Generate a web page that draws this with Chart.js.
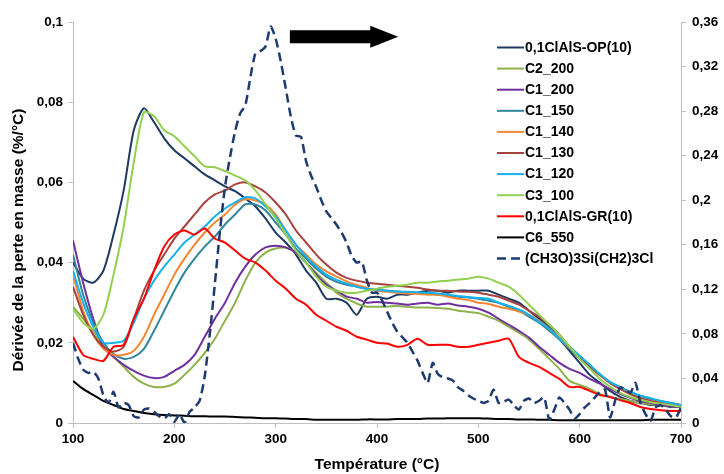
<!DOCTYPE html>
<html>
<head>
<meta charset="utf-8">
<script src="https://cdn.jsdelivr.net/npm/chart.js@4.4.1/dist/chart.umd.min.js"></script>
<style>
html,body{margin:0;padding:0;background:#fff}
#wrap{width:724px;height:474px}
</style>
</head>
<body>
<div id="wrap"><canvas id="dtgChart" width="724" height="474"></canvas></div>
<script>
"use strict"
//temperatures (°C), 10 degree step for the samples, 5 degree step for the silane
var temps = [100,110,120,130,140,150,160,170,180,190,
  200,210,220,230,240,250,260,270,280,290,
  300,310,320,330,340,350,360,370,380,390,
  400,410,420,430,440,450,460,470,480,490,
  500,510,520,530,540,550,560,570,580,590,
  600,610,620,630,640,650,660,670,680,690,700];
var tempsSilane = [100,105,110,115,120,125,130,135,140,145,
  150,155,160,165,170,175,180,185,190,195,
  200,205,210,215,220,225,230,235,240,245,
  250,255,260,265,270,275,280,285,290,295,
  300,305,310,315,320,325,330,335,340,345,
  350,355,360,365,370,375,380,385,390,395,
  400,405,410,415,420,425,430,435,440,445,
  450,455,460,465,470,475,480,485,490,495,
  500,505,510,515,520,525,530,535,540,545,
  550,555,560,565,570,575,580,585,590,595,
  600,605,610,615,620,625,630,635,640,645,
  650,655,660,665,670,675,680,685,690,695,700];

//series (left axis, %/°C)
var op10 = [0.040,0.036,0.035,0.038,0.047,0.058,0.073,0.0785,0.075,0.071,
  0.068,0.066,0.064,0.062,0.0605,0.059,0.0578,0.056,0.054,0.051,
  0.0475,0.045,0.042,0.038,0.035,0.031,0.031,0.030,0.027,0.031,
  0.0315,0.031,0.032,0.032,0.0325,0.033,0.033,0.0325,0.033,0.033,
  0.033,0.033,0.032,0.031,0.030,0.028,0.026,0.024,0.021,0.018,
  0.015,0.012,0.010,0.008,0.0065,0.0055,0.005,0.0045,0.0045,0.004,0.004];
var c2_200 = [0.029,0.026,0.023,0.019,0.0165,0.014,0.0115,0.0098,0.009,0.009,
  0.0098,0.012,0.0145,0.0175,0.021,0.0255,0.030,0.0355,0.040,0.0425,
  0.0435,0.0437,0.0425,0.040,0.0375,0.035,0.0325,0.031,0.0298,0.029,
  0.029,0.029,0.0292,0.029,0.0288,0.0288,0.0287,0.0285,0.028,0.0277,
  0.0274,0.0265,0.0255,0.024,0.0225,0.0208,0.0185,0.016,0.0135,0.0105,
  0.0095,0.0085,0.0072,0.0065,0.006,0.0055,0.005,0.0047,0.0045,0.0042,0.004];
var c1_200 = [0.0455,0.035,0.026,0.019,0.0165,0.0145,0.013,0.0118,0.0112,0.0115,
  0.013,0.0145,0.017,0.0215,0.026,0.030,0.035,0.039,0.042,0.0438,
  0.0442,0.0438,0.0425,0.040,0.037,0.0345,0.033,0.0315,0.031,0.030,
  0.0302,0.030,0.0298,0.0295,0.0298,0.030,0.0295,0.0298,0.0293,0.029,
  0.0285,0.0275,0.026,0.0245,0.023,0.0213,0.019,0.017,0.015,0.0135,
  0.0125,0.011,0.0098,0.0085,0.0073,0.0063,0.0055,0.005,0.0045,0.0042,0.004];
var c1_150 = [0.042,0.032,0.025,0.020,0.0172,0.016,0.0165,0.0185,0.023,0.028,
  0.033,0.0375,0.041,0.044,0.0465,0.0495,0.052,0.0545,0.0545,0.053,
  0.050,0.047,0.0435,0.041,0.0385,0.0365,0.0352,0.0345,0.034,0.0335,
  0.0332,0.033,0.0328,0.0326,0.0325,0.0323,0.032,0.0318,0.0315,0.0313,
  0.031,0.0305,0.030,0.029,0.028,0.0265,0.025,0.023,0.0208,0.0185,
  0.016,0.014,0.012,0.0102,0.0088,0.0076,0.0067,0.006,0.0055,0.005,0.0045];
var c1_140 = [0.037,0.028,0.022,0.0185,0.017,0.017,0.018,0.0215,0.027,0.032,
  0.037,0.041,0.0445,0.0475,0.050,0.052,0.0545,0.0558,0.0555,0.0545,
  0.052,0.048,0.0445,0.042,0.0395,0.0378,0.0365,0.0353,0.0344,0.0337,
  0.033,0.0327,0.0325,0.0323,0.0322,0.032,0.032,0.0315,0.031,0.0307,
  0.030,0.0297,0.029,0.0285,0.0278,0.027,0.0255,0.0235,0.021,0.0188,
  0.0165,0.014,0.012,0.010,0.0085,0.0072,0.0062,0.0055,0.005,0.0047,0.0045];
var c1_130 = [0.034,0.027,0.022,0.019,0.0178,0.019,0.026,0.033,0.038,0.042,
  0.046,0.049,0.052,0.055,0.057,0.058,0.0595,0.060,0.059,0.0575,
  0.055,0.052,0.048,0.045,0.042,0.0395,0.0375,0.0362,0.0355,0.035,
  0.0347,0.0345,0.0342,0.034,0.0337,0.0333,0.033,0.033,0.0328,0.0327,
  0.0325,0.032,0.0315,0.0305,0.0295,0.028,0.0265,0.0245,0.022,0.019,
  0.0165,0.014,0.012,0.010,0.0085,0.0072,0.0062,0.0055,0.005,0.0047,0.0045];
var c1_120 = [0.038,0.030,0.024,0.020,0.020,0.0205,0.025,0.031,0.0355,0.039,
  0.042,0.045,0.047,0.049,0.0515,0.0535,0.055,0.0563,0.056,0.054,
  0.0515,0.048,0.0445,0.0415,0.039,0.037,0.0357,0.0348,0.034,0.0335,
  0.0332,0.033,0.0328,0.0327,0.0326,0.0325,0.0323,0.032,0.0317,0.0314,
  0.0312,0.031,0.030,0.0292,0.0283,0.027,0.0252,0.0235,0.021,0.019,
  0.0168,0.0145,0.0122,0.0102,0.009,0.0078,0.0068,0.0062,0.0055,0.005,0.0045];
var c3_100 = [0.0285,0.025,0.0235,0.027,0.037,0.049,0.065,0.0775,0.0765,0.073,
  0.0715,0.069,0.0665,0.064,0.0638,0.0628,0.0617,0.0605,0.058,0.0545,
  0.051,0.047,0.043,0.040,0.0365,0.034,0.033,0.0325,0.0325,0.033,
  0.0335,0.034,0.0342,0.0345,0.035,0.035,0.0353,0.0355,0.0358,0.036,
  0.0365,0.036,0.035,0.034,0.032,0.0295,0.027,0.0245,0.022,0.019,
  0.016,0.0135,0.011,0.009,0.0075,0.0065,0.0058,0.0052,0.0048,0.0045,0.004];
var gr10 = [0.0215,0.017,0.016,0.0155,0.019,0.0195,0.026,0.031,0.038,0.044,
  0.047,0.048,0.047,0.0485,0.046,0.045,0.043,0.041,0.040,0.038,
  0.0355,0.0335,0.031,0.0295,0.027,0.0255,0.024,0.023,0.0215,0.0208,
  0.020,0.0198,0.019,0.0195,0.021,0.0195,0.0195,0.0195,0.019,0.019,
  0.0195,0.020,0.0205,0.021,0.0165,0.015,0.014,0.0125,0.011,0.009,
  0.009,0.008,0.007,0.0065,0.0057,0.005,0.004,0.0035,0.0032,0.003,0.003];
var c6_550 = [0.0105,0.0085,0.007,0.0055,0.0045,0.0035,0.003,0.0025,0.0022,0.002,
  0.0019,0.0018,0.0017,0.0017,0.0016,0.0016,0.0015,0.0014,0.0013,0.0012,
  0.0012,0.0011,0.001,0.001,0.0008,0.0008,0.0008,0.0008,0.0008,0.0009,
  0.0009,0.0009,0.001,0.001,0.001,0.0011,0.0011,0.0012,0.0012,0.0012,
  0.0012,0.0011,0.001,0.001,0.0009,0.0009,0.0008,0.0008,0.0007,0.0007,
  0.0007,0.0007,0.0007,0.0007,0.0007,0.0007,0.0007,0.0008,0.0008,0.0008,0.0008];
//silane (right axis)
var silane = [0.072,0.058,0.048,0.045,0.046,0.040,0.025,0.018,0.028,0.014,
  0.018,0.016,0.006,0.005,0.012,0.013,0.010,0.006,0.004,0.008,
  0.001,0.008,0.000,0.010,0.014,0.020,0.042,0.080,0.125,0.172,
  0.212,0.239,0.262,0.278,0.285,0.310,0.332,0.334,0.338,0.356,
  0.345,0.325,0.300,0.275,0.258,0.257,0.235,0.222,0.212,0.200,
  0.190,0.184,0.178,0.171,0.162,0.150,0.144,0.145,0.128,0.117,
  0.117,0.110,0.100,0.090,0.082,0.077,0.072,0.064,0.056,0.045,
  0.036,0.054,0.044,0.041,0.040,0.038,0.032,0.029,0.025,0.022,
  0.020,0.018,0.020,0.030,0.018,0.019,0.021,0.016,0.012,0.020,
  0.022,0.018,0.020,0.023,0.003,0.012,0.023,0.018,0.012,0.004,
  0.008,0.014,0.018,0.023,0.028,0.030,0.005,0.020,0.032,0.030,
  0.027,0.036,0.018,0.008,0.002,0.014,0.016,0.012,0.006,0.005,0.014];

var seriesNames = ["0,1ClAlS-OP(10)","C2_200","C1_200","C1_150","C1_140","C1_130","C1_120","C3_100","0,1ClAlS-GR(10)","C6_550","(CH3O)3Si(CH2)3Cl"];
var seriesColors = ["#1F3A60","#8FB24C","#7030A0","#31859C","#F58634","#A8423F","#16B1EE","#92D050","#FF0000","#000000","#1F3A70"];

//axis ticks
var xTicks = [100,200,300,400,500,600,700];
var leftTicks = [0,0.02,0.04,0.06,0.08,0.1];
var rightTicks = [0,0.04,0.08,0.12,0.16,0.2,0.24,0.28,0.32,0.36];
//arrow annotation: from/to temperature, height on left axis
var arrowFrom = 314, arrowTo = 421, arrowLevel = 0.0963;

var FONT = "'Liberation Sans', Arial, sans-serif";

function pts(xs, ys) {//pair x and y arrays
  return xs.map(function(x, i) { return {x: x, y: ys[i]}; });
}
function comma(v) { return String(v).replace(".", ","); }

var sampleData = [op10,c2_200,c1_200,c1_150,c1_140,c1_130,c1_120,c3_100,gr10,c6_550];
var datasets = sampleData.map(function(arr, i) {
  return {
    label: seriesNames[i],
    data: pts(temps, arr),
    borderColor: seriesColors[i],
    borderWidth: 2,
    pointRadius: 0,
    tension: 0.25,
    yAxisID: "y",
    order: 20 - i
  };
});
datasets.push({
  label: seriesNames[10],
  data: pts(tempsSilane, silane),
  borderColor: seriesColors[10],
  borderWidth: 2.5,
  borderDash: [9, 5],
  pointRadius: 0,
  tension: 0.2,
  yAxisID: "y1",
  order: 1
});

var decor = {//titles, legend and arrow
  id: "decor",
  afterDatasetsDraw: function(chart) {
    var ctx = chart.ctx, sx = chart.scales.x, sy = chart.scales.y;
    //arrow
    var x0 = sx.getPixelForValue(arrowFrom), x1 = sx.getPixelForValue(arrowTo);
    var yc = sy.getPixelForValue(arrowLevel);
    var head = 28;
    ctx.save();
    ctx.fillStyle = "#000";
    ctx.beginPath();
    ctx.moveTo(x0, yc - 6.5);
    ctx.lineTo(x1 - head, yc - 6.5);
    ctx.lineTo(x1 - head, yc - 11);
    ctx.lineTo(x1, yc);
    ctx.lineTo(x1 - head, yc + 11);
    ctx.lineTo(x1 - head, yc + 6.5);
    ctx.lineTo(x0, yc + 6.5);
    ctx.closePath();
    ctx.fill();
    ctx.restore();
  },
  afterDraw: function(chart) {
    var ctx = chart.ctx;
    ctx.save();
    //legend
    ctx.font = "bold 14px " + FONT;
    ctx.textBaseline = "middle";
    ctx.textAlign = "left";
    chart.data.datasets.forEach(function(ds, i) {
      var y = 47.5 + i * 21.1;
      ctx.strokeStyle = ds.borderColor;
      ctx.lineWidth = ds.borderWidth;
      ctx.setLineDash(ds.borderDash || []);
      ctx.beginPath();
      ctx.moveTo(497, y);
      ctx.lineTo(524, y);
      ctx.stroke();
      ctx.setLineDash([]);
      ctx.fillStyle = "#000";
      ctx.fillText(ds.label, 525, y + 0.5);
    });
    //axis titles
    ctx.font = "bold 15.5px " + FONT;
    ctx.textAlign = "center";
    ctx.fillText("Température (°C)", 377, 465);
    ctx.translate(19, 240);
    ctx.rotate(-Math.PI / 2);
    ctx.fillText("Dérivée de la perte en masse (%/°C)", 0, 0);
    ctx.restore();
  }
};

var axisGrey = "#BFBFBF";
var tickFont = {family: FONT, size: 13.5, weight: "bold"};

var dtgC = document.getElementById("dtgChart");
var dtgChart = new Chart(dtgC, {
  type: "line",
  data: {datasets: datasets},
  options: {
    responsive: false,
    animation: false,
    layout: {padding: {top: 22, left: 0, right: 0, bottom: 0}},
    plugins: {legend: {display: false}, tooltip: {enabled: false}},
    scales: {
      x: {
        type: "linear", min: 100, max: 700,
        afterBuildTicks: function(s) { s.ticks = xTicks.map(function(v) { return {value: v}; }); },
        afterFit: function(s) { s.height = 51; },
        grid: {drawOnChartArea: false, tickLength: 5, color: axisGrey},
        border: {color: axisGrey},
        ticks: {font: tickFont, color: "#000", padding: 3, maxRotation: 0}
      },
      y: {
        type: "linear", position: "left", min: 0, max: 0.1,
        afterBuildTicks: function(s) { s.ticks = leftTicks.map(function(v) { return {value: v}; }); },
        afterFit: function(s) { s.width = 73; },
        grid: {drawOnChartArea: false, tickLength: 5, color: axisGrey},
        border: {color: axisGrey},
        ticks: {font: tickFont, color: "#000", padding: 5, callback: comma}
      },
      y1: {
        type: "linear", position: "right", min: 0, max: 0.36,
        afterBuildTicks: function(s) { s.ticks = rightTicks.map(function(v) { return {value: v}; }); },
        afterFit: function(s) { s.width = 43; },
        grid: {drawOnChartArea: false, tickLength: 5, color: axisGrey},
        border: {color: axisGrey},
        ticks: {font: tickFont, color: "#000", padding: 6, callback: comma}
      }
    }
  },
  plugins: [decor]
});
</script>
</body>
</html>
